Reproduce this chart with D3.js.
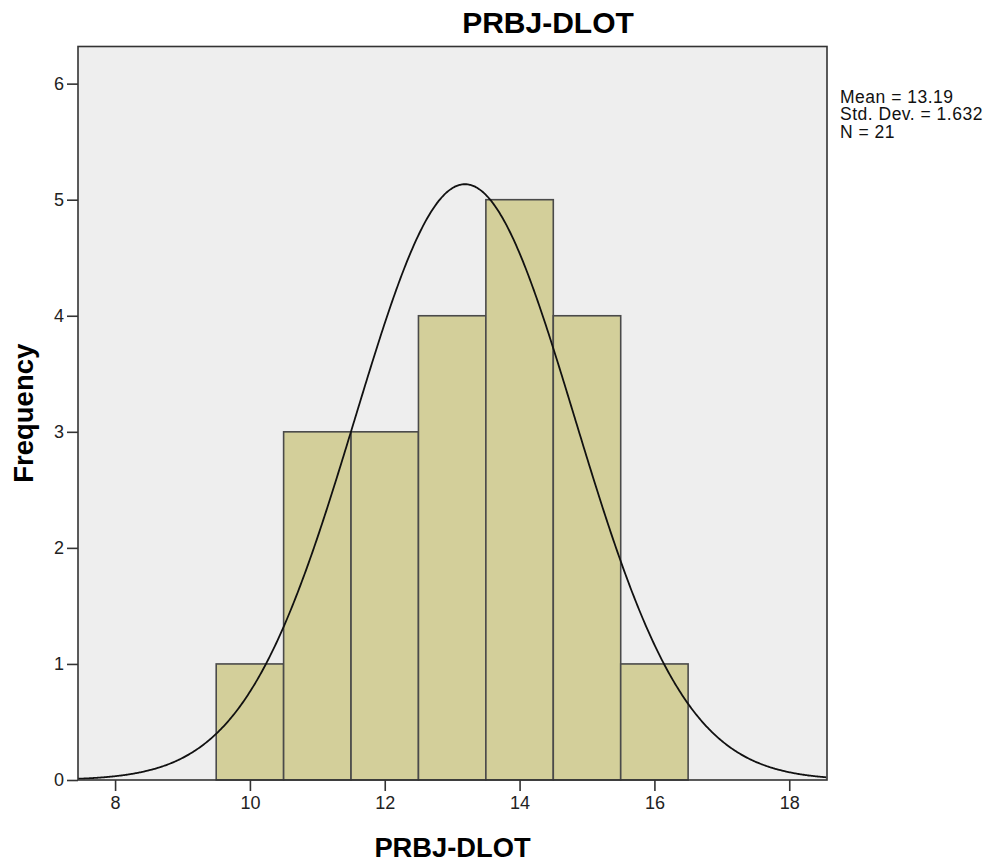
<!DOCTYPE html>
<html lang="en">
<head>
<meta charset="utf-8">
<script src="https://d3js.org/d3.v7.min.js"></script>
<title>PRBJ-DLOT histogram</title>
<style>
    body { margin: 0; background: #fff; }
    svg { display: block; font-family: "Liberation Sans", Arial, sans-serif; }
</style>
</head>
<body>
<script>
// histogram bins (lower edge, upper edge) and counts
const binStart = [9.5, 10.5, 11.5, 12.5, 13.5, 14.5, 15.5];
const binEnd   = [10.5, 11.5, 12.5, 13.5, 14.5, 15.5, 16.5];
const counts   = [1, 3, 3, 4, 5, 4, 1];
const xTicks = [8, 10, 12, 14, 16, 18];
const yTicks = [0, 1, 2, 3, 4, 5, 6];
const statLines = ["Mean = 13.19", "Std. Dev. = 1.632", "N = 21"];
const mean = 13.19, sd = 1.632, n = 21, binWidth = 1;

const width = 995, height = 863;
const margin = {left: 78, right: 168, top: 46.5, bottom: 83};

const svg = d3.select("body").append("svg")
    .attr("width", width).attr("height", height);

const x = d3.scaleLinear().domain([7.45, 18.56]).range([margin.left, width - margin.right]);
const y = d3.scaleLinear().domain([0, 6.32]).range([height - margin.bottom, margin.top]);

// plot background
svg.append("rect")
    .attr("x", x.range()[0]).attr("y", y.range()[1])
    .attr("width", x.range()[1] - x.range()[0])
    .attr("height", y.range()[0] - y.range()[1])
    .attr("fill", "#eeeeee");

// bars
svg.append("g").selectAll("rect")
    .data(counts)
    .enter().append("rect")
    .attr("x", (d, i) => x(binStart[i]))
    .attr("width", (d, i) => x(binEnd[i]) - x(binStart[i]))
    .attr("y", d => y(d))
    .attr("height", d => y(0) - y(d))
    .attr("fill", "#d3cf9a")
    .attr("stroke", "#4a4a4a")
    .attr("stroke-width", 1.6);

// normal curve from mean / sd / n
const curveX = d3.range(x.domain()[0], x.domain()[1] + 0.001, 0.02);
const line = d3.line()
    .x(d => x(d))
    .y(d => y(n * binWidth * Math.exp(-0.5 * ((d - mean) / sd) ** 2) / (sd * Math.sqrt(2 * Math.PI))))
    .curve(d3.curveBasis);
svg.append("path")
    .datum(curveX)
    .attr("d", line)
    .attr("fill", "none")
    .attr("stroke", "#111")
    .attr("stroke-width", 1.8);

// frame
svg.append("rect")
    .attr("x", x.range()[0]).attr("y", y.range()[1])
    .attr("width", x.range()[1] - x.range()[0])
    .attr("height", y.range()[0] - y.range()[1])
    .attr("fill", "none")
    .attr("stroke", "#333")
    .attr("stroke-width", 1.6);

// axes
const xAxis = svg.append("g")
    .attr("transform", `translate(0,${y(0)})`)
    .call(d3.axisBottom(x).tickValues(xTicks).tickSize(11).tickPadding(5));
const yAxis = svg.append("g")
    .attr("transform", `translate(${x.range()[0]},0)`)
    .call(d3.axisLeft(y).tickValues(yTicks).tickFormat(d3.format("d")).tickSize(11).tickPadding(3));
[xAxis, yAxis].forEach(a => {
    a.select(".domain").remove();
    a.selectAll(".tick line").attr("stroke", "#333").attr("stroke-width", 1.6);
    a.selectAll(".tick text")
        .attr("font-family", "Liberation Sans, Arial, sans-serif")
        .attr("font-size", 18).attr("fill", "#222");
});

// title
svg.append("text")
    .attr("x", 548).attr("y", 33)
    .attr("text-anchor", "middle")
    .attr("font-size", 30).attr("font-weight", "bold")
    .text("PRBJ-DLOT");

// axis titles
svg.append("text")
    .attr("x", (x.range()[0] + x.range()[1]) / 2).attr("y", 857)
    .attr("text-anchor", "middle")
    .attr("font-size", 27.3).attr("font-weight", "bold")
    .text("PRBJ-DLOT");
svg.append("text")
    .attr("transform", `translate(33,${(y.range()[0] + y.range()[1]) / 2}) rotate(-90)`)
    .attr("text-anchor", "middle")
    .attr("font-size", 27.5).attr("font-weight", "bold")
    .text("Frequency");

// stats box
svg.append("g").selectAll("text")
    .data(statLines)
    .enter().append("text")
    .attr("x", 840)
    .attr("y", (d, i) => 103 + i * 17.3)
    .attr("font-size", 17.5)
    .attr("letter-spacing", 0.5)
    .attr("fill", "#111")
    .text(d => d);
</script>
</body>
</html>
